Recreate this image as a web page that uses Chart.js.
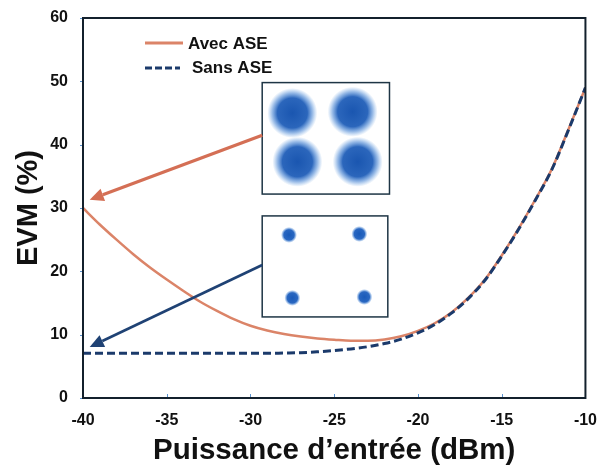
<!DOCTYPE html>
<html><head><meta charset="utf-8">
<script src="https://cdn.jsdelivr.net/npm/chart.js@4.4.1/dist/chart.umd.min.js"></script>
<style>html,body{margin:0;padding:0;background:#fff;} canvas{display:block;}</style>
</head><body>
<canvas id="c" width="597" height="471"></canvas>
<script>
// ---- data ----
const xValues = [-40,-39,-38,-37,-36,-35,-34,-33,-32,-31,-30,-29,-28,-27,-26,-25,-24,-23,-22,-21,-20,-19,-18,-17,-16,-15,-14,-13,-12,-11,-10];
const avecASE = [30.0,27.4,25.0,22.7,20.6,18.7,16.9,15.2,13.75,12.45,11.4,10.65,10.1,9.7,9.4,9.2,9.05,9.05,9.25,9.75,10.6,11.8,13.5,15.8,18.7,22.5,26.7,31.3,36.2,42.5,49.0];
const sansASE = [7.05,7.05,7.05,7.05,7.05,7.05,7.05,7.05,7.05,7.05,7.05,7.05,7.1,7.15,7.3,7.5,7.75,8.1,8.6,9.3,10.3,11.6,13.4,15.7,18.6,22.4,26.6,31.2,36.1,42.4,49.0];
const seriesNames = ['Avec ASE', 'Sans ASE'];
const xTicks = [-40,-35,-30,-25,-20,-15,-10];
const yTicks = [0,10,20,30,40,50,60];
const xTitle = 'Puissance d\u2019entrée (dBm)';
const yTitle = 'EVM (%)';
// inset boxes in data units: [xMin, xMax, yMin, yMax]
const insetBoxes = [[-29.3,-21.7,32.2,49.8],[-29.3,-21.8,12.8,28.75]];
// constellation symbol centres (data units) per inset
const insetSymbols = [
  [[-27.5,45.0],[-23.9,45.2],[-27.2,37.3],[-23.6,37.3]],
  [[-27.7,25.75],[-23.5,25.9],[-27.5,15.8],[-23.2,15.95]]
];
// arrows: [fromX, fromY, toX, toY] in data units
const arrows = [[-29.3,41.5,-39.6,31.3],[-29.3,21.0,-39.6,8.05]];

const RED = '#DB8468', NAVY = '#1B3A6B', RED_ARROW = '#D46F55', NAVY_ARROW = '#1F4274';
const FONT = 'Liberation Sans, Arial, sans-serif';

const deco = {
  id: 'deco',
  afterDatasetsDraw(chart) {
    const {ctx, chartArea: a, scales: {x, y}} = chart;
    ctx.save();
    // tick marks
    ctx.strokeStyle = '#5B93CF'; ctx.lineWidth = 1;
    yTicks.forEach(v => { const py = Math.round(y.getPixelForValue(v)) + 0.5; ctx.beginPath(); ctx.moveTo(a.left - 3, py); ctx.lineTo(a.left, py); ctx.stroke(); });
    xTicks.forEach(v => { const px = Math.round(x.getPixelForValue(v)) + 0.5; ctx.beginPath(); ctx.moveTo(px, a.bottom - 4); ctx.lineTo(px, a.bottom); ctx.stroke(); });
    // frame
    ctx.strokeStyle = '#13202C'; ctx.lineWidth = 2;
    ctx.strokeRect(a.left, a.top, a.right - a.left, a.bottom - a.top);
    // insets
    insetBoxes.forEach((b, k) => {
      const l = x.getPixelForValue(b[0]), r = x.getPixelForValue(b[1]);
      const t = y.getPixelForValue(b[3]), bt = y.getPixelForValue(b[2]);
      ctx.fillStyle = '#fff'; ctx.fillRect(l, t, r - l, bt - t);
      const rad = k === 0 ? 25 : 8;
      insetSymbols[k].forEach(s => {
        const cx = x.getPixelForValue(s[0]), cy = y.getPixelForValue(s[1]);
        const g = ctx.createRadialGradient(cx, cy, 0, cx, cy, rad);
        if (k === 0) {
          g.addColorStop(0, 'rgba(26,86,176,1)');
          g.addColorStop(0.6, 'rgba(32,94,184,0.95)');
          g.addColorStop(0.8, 'rgba(45,115,205,0.5)');
          g.addColorStop(1, 'rgba(70,140,220,0)');
        } else {
          g.addColorStop(0, 'rgba(25,90,185,1)');
          g.addColorStop(0.65, 'rgba(30,95,190,0.95)');
          g.addColorStop(1, 'rgba(60,130,215,0)');
        }
        ctx.fillStyle = g;
        ctx.beginPath(); ctx.arc(cx, cy, rad, 0, Math.PI * 2); ctx.fill();
      });
      ctx.strokeStyle = '#1E3545'; ctx.lineWidth = 1.5;
      ctx.strokeRect(l, t, r - l, bt - t);
    });
    // arrows
    arrows.forEach((ar, k) => {
      const x0 = x.getPixelForValue(ar[0]), y0 = y.getPixelForValue(ar[1]);
      const x1 = x.getPixelForValue(ar[2]), y1 = y.getPixelForValue(ar[3]);
      const ang = Math.atan2(y1 - y0, x1 - x0);
      const hl = 14, hw = 6.5;
      const col = k === 0 ? RED_ARROW : NAVY_ARROW;
      const bx = x1 - hl * Math.cos(ang), by = y1 - hl * Math.sin(ang);
      ctx.strokeStyle = col; ctx.lineWidth = k === 0 ? 3.2 : 2.6; ctx.lineCap = 'butt';
      ctx.beginPath(); ctx.moveTo(x0, y0); ctx.lineTo(bx, by); ctx.stroke();
      ctx.fillStyle = col;
      ctx.beginPath();
      ctx.moveTo(x1, y1);
      ctx.lineTo(bx + hw * Math.sin(ang), by - hw * Math.cos(ang));
      ctx.lineTo(bx - hw * Math.sin(ang), by + hw * Math.cos(ang));
      ctx.closePath(); ctx.fill();
    });
    // legend
    ctx.font = 'bold 17px ' + FONT; ctx.textBaseline = 'middle'; ctx.fillStyle = '#111';
    const ds = chart.data.datasets;
    ctx.lineWidth = 3; ctx.strokeStyle = ds[0].borderColor; ctx.setLineDash([]);
    ctx.beginPath(); ctx.moveTo(145, 43); ctx.lineTo(183, 43); ctx.stroke();
    ctx.fillText(ds[0].label, 188, 44);
    ctx.strokeStyle = ds[1].borderColor; ctx.setLineDash([7, 3]);
    ctx.beginPath(); ctx.moveTo(145, 68); ctx.lineTo(180, 68); ctx.stroke();
    ctx.setLineDash([]);
    ctx.fillText(ds[1].label, 192, 68);
    ctx.restore();
  }
};

new Chart(document.getElementById('c').getContext('2d'), {
  type: 'line',
  data: {
    datasets: [
      { label: seriesNames[0], data: xValues.map((v, i) => ({x: v, y: avecASE[i]})), borderColor: RED, borderWidth: 2.5, pointRadius: 0, cubicInterpolationMode: 'monotone', fill: false, order: 1 },
      { label: seriesNames[1], data: xValues.map((v, i) => ({x: v, y: sansASE[i]})), borderColor: NAVY, borderWidth: 3, borderDash: [8, 4], pointRadius: 0, cubicInterpolationMode: 'monotone', fill: false, order: 0 }
    ]
  },
  options: {
    responsive: false, animation: false, devicePixelRatio: 1,
    layout: { padding: { left: 0, right: 0, top: 18, bottom: 0 } },
    plugins: { legend: { display: false }, tooltip: { enabled: false } },
    scales: {
      x: {
        type: 'linear', min: -40, max: -10,
        afterBuildTicks: s => { s.ticks = xTicks.map(v => ({value: v})); },
        grid: { display: false, drawTicks: true, tickLength: 13 }, border: { display: false },
        ticks: { padding: 0, color: '#111', maxRotation: 0, autoSkip: false, font: { family: FONT, size: 16, weight: 'bold' } },
        title: { display: true, text: xTitle, color: '#111', font: { family: FONT, size: 29.5, weight: 'bold' }, padding: { top: 0, bottom: 2 } },
        afterFit: s => { s.height = 73; }
      },
      y: {
        type: 'linear', min: 0, max: 60,
        afterBuildTicks: s => { s.ticks = yTicks.map(v => ({value: v})); },
        grid: { display: false, drawTicks: true, tickLength: 15 }, border: { display: false },
        ticks: { padding: 0, color: '#111', autoSkip: false, font: { family: FONT, size: 16, weight: 'bold' } },
        title: { display: true, text: yTitle, color: '#111', font: { family: FONT, size: 29, weight: 'bold' }, padding: { top: 12, bottom: 0 } },
        afterFit: s => { s.width = 83; }
      }
    }
  },
  plugins: [deco]
});
</script>
</body></html>
